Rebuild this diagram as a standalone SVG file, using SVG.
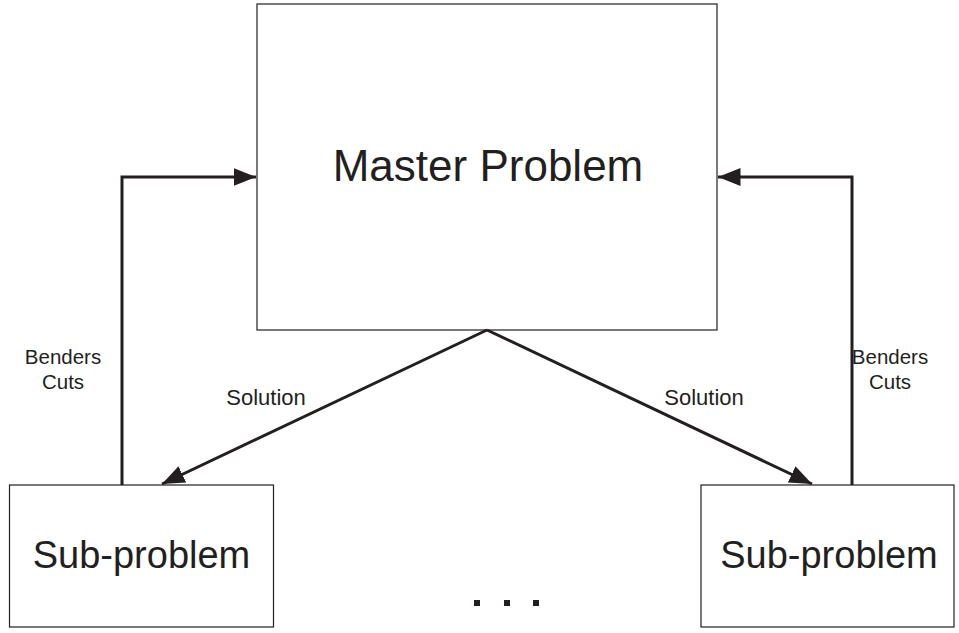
<svg xmlns="http://www.w3.org/2000/svg" width="959" height="633" viewBox="0 0 959 633">
  <style>
    .box { fill: #ffffff; stroke: #231f20; stroke-width: 1.2; }
    .conn { fill: none; stroke: #231f20; stroke-width: 3; }
    .t { font-family: "Liberation Sans", Arial, sans-serif; fill: #231f20; text-anchor: middle; }
    .big { font-size: 44px; }
    .mid { font-size: 38px; }
    .small { font-size: 20.5px; }
    .lbl { font-size: 22px; }
  </style>
  <defs>
    <marker id="arrow" viewBox="0 0 10 8" refX="10" refY="4" markerWidth="7.5" markerHeight="6" markerUnits="strokeWidth" orient="auto">
      <path d="M0,0 L10,4 L0,8 Z" fill="#231f20"/>
    </marker>
  </defs>
  <rect width="959" height="633" fill="#ffffff"/>

  <g id="master">
    <rect class="box" x="257" y="4" width="460" height="326"/>
    <text class="t big" x="488" y="181">Master Problem</text>
  </g>

  <g id="sub-left">
    <rect class="box" x="9.5" y="485" width="264" height="142"/>
    <text class="t mid" x="141.5" y="568">Sub-problem</text>
  </g>

  <g id="sub-right">
    <rect class="box" x="701" y="485" width="253" height="142"/>
    <text class="t mid" x="829" y="568">Sub-problem</text>
  </g>

  <g id="ellipsis" fill="#231f20">
    <rect x="474" y="600" width="6" height="6"/>
    <rect x="504" y="600" width="6" height="6"/>
    <rect x="533" y="600" width="6" height="6"/>
  </g>

  <g id="connectors">
    <polyline class="conn" points="122,485 122,177 256,177" marker-end="url(#arrow)"/>
    <polyline class="conn" points="852,485 852,177 718,177" marker-end="url(#arrow)"/>
    <line class="conn" x1="487" y1="330" x2="162" y2="484" marker-end="url(#arrow)"/>
    <line class="conn" x1="487" y1="330" x2="812" y2="484" marker-end="url(#arrow)"/>
    <text class="t small" x="63" y="364">Benders</text>
    <text class="t small" x="63" y="389">Cuts</text>
    <text class="t small" x="890" y="364">Benders</text>
    <text class="t small" x="890" y="389">Cuts</text>
    <text class="t lbl" x="266" y="405">Solution</text>
    <text class="t lbl" x="704" y="405">Solution</text>
  </g>
</svg>
